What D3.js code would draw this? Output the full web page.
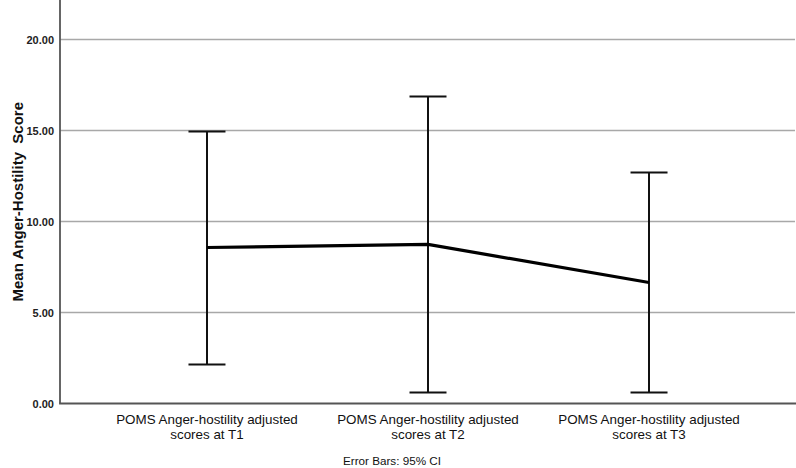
<!DOCTYPE html>
<html>
<head>
<meta charset="utf-8">
<script src="https://cdn.jsdelivr.net/npm/d3@7"></script>
<style>
  html, body { margin: 0; padding: 0; background: #fff; }
  svg { display: block; }
</style>
</head>
<body>
<svg id="chart" width="796" height="468"></svg>
<script>
const categories = ["T1", "T2", "T3"];
const labelLine1 = ["POMS Anger-hostility adjusted", "POMS Anger-hostility adjusted", "POMS Anger-hostility adjusted"];
const labelLine2 = ["scores at T1", "scores at T2", "scores at T3"];
const means = [8.57, 8.74, 6.65];
const lower = [2.14, 0.60, 0.60];
const upper = [14.95, 16.87, 12.69];
const yTicks = [0, 5, 10, 15, 20];
const yTitle = "Mean Anger-Hostility  Score";
const footnote = "Error Bars: 95% CI";

(function () {
const svg = d3.select("#chart");
const pLeft = 60, pRight = 796, pTop = 0, pBottom = 403.5;

const x = d3.scalePoint().domain(categories).range([pLeft, pRight]).padding(0.665);
const y = d3.scaleLinear().domain([0, 22.17]).range([pBottom, pTop]);

// gridlines
svg.append("g").selectAll("line").data(yTicks.filter(d => d > 0)).join("line")
  .attr("x1", pLeft).attr("x2", 795)
  .attr("y1", d => y(d)).attr("y2", d => y(d))
  .attr("stroke", "#a8a8a8").attr("stroke-width", 1.6);

// y axis
const yAxis = d3.axisLeft(y).tickValues(yTicks).tickSize(0).tickPadding(6).tickFormat(d3.format(".2f"));
const gy = svg.append("g").attr("transform", `translate(${pLeft},0)`).call(yAxis);
gy.select(".domain").remove();
gy.selectAll("text").attr("font-family", "Liberation Sans, Arial, sans-serif")
  .attr("font-size", 11).attr("font-weight", "bold").attr("fill", "#222");

// axis lines
svg.append("line").attr("x1", pLeft).attr("x2", pLeft).attr("y1", 0).attr("y2", pBottom)
  .attr("stroke", "#555").attr("stroke-width", 1.8);
svg.append("line").attr("x1", pLeft - 0.9).attr("x2", 796).attr("y1", pBottom).attr("y2", pBottom)
  .attr("stroke", "#555").attr("stroke-width", 1.8);

// error bars
const capHalf = 18.5;
const eb = svg.append("g").attr("stroke", "#111").attr("stroke-width", 2);
categories.forEach((c, i) => {
  const cx = x(c);
  eb.append("line").attr("x1", cx).attr("x2", cx).attr("y1", y(lower[i])).attr("y2", y(upper[i]));
  eb.append("line").attr("x1", cx - capHalf).attr("x2", cx + capHalf).attr("y1", y(lower[i])).attr("y2", y(lower[i]));
  eb.append("line").attr("x1", cx - capHalf).attr("x2", cx + capHalf).attr("y1", y(upper[i])).attr("y2", y(upper[i]));
});

// mean line
const line = d3.line().x((d, i) => x(categories[i])).y(d => y(d));
svg.append("path").datum(means).attr("d", line)
  .attr("fill", "none").attr("stroke", "#000").attr("stroke-width", 3.2).attr("stroke-linejoin", "miter");

// x labels
const gx = svg.append("g").attr("font-family", "Liberation Sans, Arial, sans-serif")
  .attr("font-size", 13.4).attr("fill", "#111").attr("text-anchor", "middle");
categories.forEach((c, i) => {
  const t = gx.append("text").attr("x", x(c)).attr("y", 424);
  t.append("tspan").attr("x", x(c)).attr("dy", 0).text(labelLine1[i]);
  t.append("tspan").attr("x", x(c)).attr("dy", 14.5).text(labelLine2[i]);
});

// y title
svg.append("text")
  .attr("transform", `translate(23,${(pTop + pBottom) / 2}) rotate(-90)`)
  .attr("text-anchor", "middle")
  .attr("font-family", "Liberation Sans, Arial, sans-serif")
  .attr("font-size", 15).attr("font-weight", "bold").attr("fill", "#111")
  .attr("xml:space", "preserve").style("white-space", "pre")
  .text(yTitle);

// footnote
svg.append("text").attr("x", 392).attr("y", 465)
  .attr("text-anchor", "middle")
  .attr("font-family", "Liberation Sans, Arial, sans-serif")
  .attr("font-size", 11.7).attr("fill", "#111")
  .text(footnote);
})();
</script>
</body>
</html>
